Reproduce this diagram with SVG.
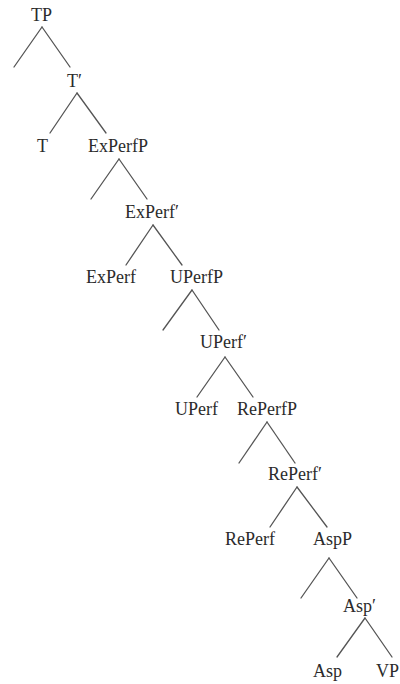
<svg xmlns="http://www.w3.org/2000/svg" width="400" height="684" viewBox="0 0 400 684">
<style>
.lbl{font-family:"Liberation Serif","Times New Roman",serif;font-size:18px;fill:#2b2b2b}
.edges line{stroke:#555;stroke-width:1.3;stroke-linecap:round}
</style>
<rect width="400" height="684" fill="#fff"/>
<g class="edges" id="connectors">
<line x1="42" y1="27" x2="14" y2="67"/><line x1="42" y1="27" x2="70" y2="67"/>
<line x1="77" y1="93" x2="50" y2="133"/><line x1="77" y1="93" x2="106" y2="133"/>
<line x1="119" y1="159" x2="91" y2="199"/><line x1="119" y1="159" x2="147" y2="199"/>
<line x1="153" y1="225" x2="126" y2="265"/><line x1="153" y1="225" x2="182" y2="265"/>
<line x1="192" y1="290" x2="163" y2="330"/><line x1="192" y1="290" x2="219" y2="330"/>
<line x1="225" y1="357" x2="197" y2="397"/><line x1="225" y1="357" x2="253" y2="397"/>
<line x1="267" y1="422" x2="239" y2="463"/><line x1="267" y1="422" x2="295" y2="463"/>
<line x1="297" y1="487" x2="270" y2="527"/><line x1="297" y1="487" x2="327" y2="527"/>
<line x1="329" y1="558" x2="301" y2="598"/><line x1="329" y1="558" x2="357" y2="598"/>
<line x1="365" y1="618" x2="337" y2="657"/><line x1="365" y1="618" x2="392" y2="657"/>
</g>
<g id="TP"><text class="lbl" x="31" y="21">TP</text></g>
<g id="Tbar"><text class="lbl" x="67" y="87">T′</text></g>
<g id="T"><text class="lbl" x="37" y="152">T</text></g>
<g id="ExPerfP"><text class="lbl" x="88" y="152">ExPerfP</text></g>
<g id="ExPerfbar"><text class="lbl" x="125" y="218">ExPerf′</text></g>
<g id="ExPerf"><text class="lbl" x="86" y="283">ExPerf</text></g>
<g id="UPerfP"><text class="lbl" x="170" y="283">UPerfP</text></g>
<g id="UPerfbar"><text class="lbl" x="200" y="348">UPerf′</text></g>
<g id="UPerf"><text class="lbl" x="175" y="415">UPerf</text></g>
<g id="RePerfP"><text class="lbl" x="237" y="415">RePerfP</text></g>
<g id="RePerfbar"><text class="lbl" x="268" y="480">RePerf′</text></g>
<g id="RePerf"><text class="lbl" x="225" y="545">RePerf</text></g>
<g id="AspP"><text class="lbl" x="313" y="545">AspP</text></g>
<g id="Aspbar"><text class="lbl" x="343" y="612">Asp′</text></g>
<g id="Asp"><text class="lbl" x="313" y="677">Asp</text></g>
<g id="VP"><text class="lbl" x="376" y="677">VP</text></g>
</svg>
